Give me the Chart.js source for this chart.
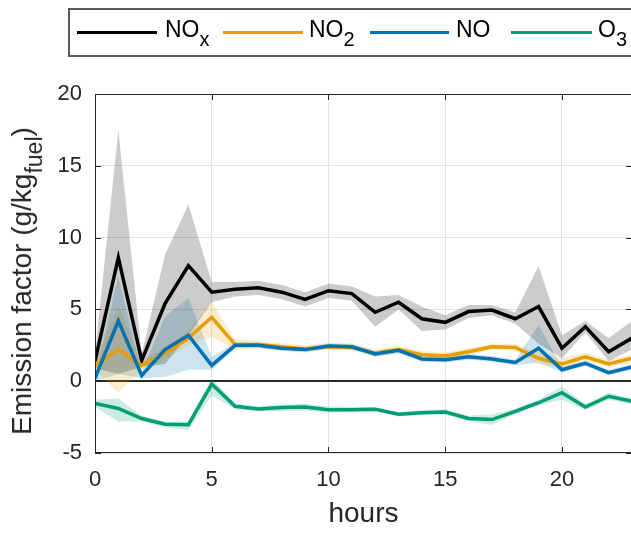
<!DOCTYPE html>
<html>
<head>
<meta charset="utf-8">
<script src="https://cdn.jsdelivr.net/npm/chart.js@4"></script>
<style>
  html, body { margin: 0; padding: 0; background: #fff; overflow: hidden; }
  #wrap { position: relative; width: 640px; height: 533px; font-family: "Liberation Sans", Arial, sans-serif; color: #262626; }
  #chart { position: absolute; left: 0; top: 0; }
  .legend { position: absolute; left: 68px; top: 8px; width: 600px; height: 49px; border: 2px solid #5a5a5a; box-sizing: border-box; }
  .key { position: absolute; top: 31px; height: 3px; }
  .lab { position: absolute; top: 18px; font-size: 23px; line-height: 23px; white-space: nowrap; color: #000; }
  .lab sub { font-size: 20px; vertical-align: -9px; line-height: 0; }
  #ytitle { position: absolute; left: 22px; top: 281px; transform: translate(-50%, -50%) rotate(-90deg); font-size: 28px; line-height: 28px; white-space: nowrap; }
  #ytitle sub { font-size: 23px; vertical-align: -11px; line-height: 0; }
</style>
</head>
<body>
<div id="wrap">
  <canvas id="chart" width="640" height="533"></canvas>
  <div class="legend"></div>
  <div class="key" style="left:77px;width:80px;background:#000"></div>
  <div class="lab" style="left:165px">NO<sub>x</sub></div>
  <div class="key" style="left:223px;width:80px;background:#E69F00"></div>
  <div class="lab" style="left:309px">NO<sub>2</sub></div>
  <div class="key" style="left:370px;width:79px;background:#0072B2"></div>
  <div class="lab" style="left:456px">NO</div>
  <div class="key" style="left:511px;width:81px;background:#009E73"></div>
  <div class="lab" style="left:598px">O<sub>3</sub></div>
  <div id="ytitle">Emission factor (g/kg<sub>fuel</sub>)</div>
</div>
<script>
const hours = [0, 1, 2, 3, 4, 5, 6, 7, 8, 9, 10, 11, 12, 13, 14, 15, 16, 17, 18, 19, 20, 21, 22, 23];

const noxMean = [1.4, 8.6, 1.45, 5.4, 8.05, 6.2, 6.4, 6.5, 6.2, 5.7, 6.3, 6.1, 4.8, 5.5, 4.35, 4.1, 4.85, 4.95, 4.35, 5.2, 2.3, 3.8, 2.05, 3.0];
const noxLow  = [0.9, 0.5, 1.0, 1.2, 3.2, 5.5, 5.9, 6.0, 5.7, 5.2, 5.8, 5.6, 3.8, 5.0, 3.5, 3.6, 4.4, 4.6, 4.0, 2.6, 1.6, 3.4, 1.4, 2.2];
const noxHigh = [1.9, 17.5, 1.9, 8.8, 12.3, 6.9, 6.9, 7.0, 6.7, 6.2, 6.8, 6.6, 5.9, 6.0, 5.2, 4.6, 5.3, 5.3, 4.8, 8.0, 3.2, 4.2, 3.0, 4.2];

const no2Mean = [1.1, 2.2, 1.1, 1.95, 3.0, 4.45, 2.55, 2.55, 2.4, 2.25, 2.4, 2.35, 1.95, 2.2, 1.85, 1.75, 2.05, 2.4, 2.35, 1.6, 1.2, 1.7, 1.2, 1.6];
const no2Low  = [0.8, -0.8, 0.8, 1.5, 2.5, 3.1, 2.2, 2.3, 2.2, 2.05, 2.2, 2.15, 1.7, 1.95, 1.6, 1.55, 1.85, 2.2, 2.1, 1.2, 0.9, 1.45, 0.95, 1.3];
const no2High = [1.4, 5.2, 1.4, 2.4, 3.5, 5.5, 2.9, 2.8, 2.65, 2.5, 2.65, 2.6, 2.2, 2.45, 2.1, 2.0, 2.3, 2.6, 2.6, 2.0, 1.6, 2.0, 1.5, 1.9];

const noMean = [0.2, 4.2, 0.4, 2.2, 3.2, 1.1, 2.5, 2.5, 2.3, 2.2, 2.45, 2.4, 1.9, 2.15, 1.55, 1.5, 1.7, 1.55, 1.3, 2.3, 0.8, 1.25, 0.6, 1.0];
const noLow  = [0.0, 0.5, 0.2, 0.3, 0.8, 0.8, 2.3, 2.3, 2.1, 2.0, 2.25, 2.2, 1.7, 1.95, 1.35, 1.3, 1.5, 1.35, 1.1, 1.3, 0.6, 1.05, 0.4, 0.8];
const noHigh = [0.4, 7.3, 0.6, 4.5, 5.8, 1.7, 2.7, 2.7, 2.5, 2.4, 2.65, 2.6, 2.1, 2.35, 1.75, 1.7, 1.9, 1.75, 1.5, 3.9, 1.0, 1.45, 0.8, 1.2];

const o3Mean = [-1.55, -1.9, -2.6, -3.0, -3.03, -0.2, -1.75, -1.93, -1.84, -1.8, -1.98, -1.98, -1.95, -2.3, -2.2, -2.15, -2.6, -2.67, -2.1, -1.5, -0.8, -1.8, -1.05, -1.4];
const o3Low  = [-1.8, -2.8, -2.8, -3.2, -3.4, -1.0, -1.95, -2.1, -2.1, -2.05, -2.2, -2.15, -2.1, -2.45, -2.35, -2.3, -2.8, -3.05, -2.3, -1.7, -1.3, -2.0, -1.3, -1.6];
const o3High = [-1.3, -1.2, -2.4, -2.8, -2.8, 0.2, -1.55, -1.75, -1.6, -1.55, -1.75, -1.8, -1.8, -2.15, -2.0, -1.95, -2.4, -2.3, -1.9, -1.3, -0.35, -1.6, -0.8, -1.2];

const xTicks = [0, 5, 10, 15, 20];
const yTicks = [-5, 0, 5, 10, 15, 20];

const FONT = '"Liberation Sans", Arial, sans-serif';
const AXIS = '#262626';
const GRID = '#e3e3e3';

function toXY(vals) {
    return hours.map((h, i) => ({ x: h, y: vals[i] }));
}

function band(low, high, color) {
    return [
        { data: toXY(low), borderWidth: 0, pointRadius: 0, fill: false, order: 10 },
        { data: toXY(high), borderWidth: 0, pointRadius: 0, fill: '-1', backgroundColor: color, order: 10 }
    ];
}

function line(vals, color, order) {
    return { data: toXY(vals), borderColor: color, borderWidth: 3.5, pointRadius: 0, fill: false, tension: 0, order: order };
}

// box round the plot with inward ticks, like the original
const axesBox = {
    id: 'axesBox',
    afterDraw(chart) {
        const { ctx, chartArea: a, scales: { x, y } } = chart;
        ctx.save();
        ctx.strokeStyle = AXIS;
        ctx.lineWidth = 1;
        ctx.strokeRect(a.left + 0.5, a.top + 0.5, a.right - a.left - 1, a.bottom - a.top - 1);
        ctx.beginPath();
        x.ticks.forEach(t => {
            const px = Math.round(x.getPixelForValue(t.value)) + 0.5;
            ctx.moveTo(px, a.bottom); ctx.lineTo(px, a.bottom - 6);
            ctx.moveTo(px, a.top); ctx.lineTo(px, a.top + 6);
        });
        y.ticks.forEach(t => {
            const py = Math.round(y.getPixelForValue(t.value)) + 0.5;
            ctx.moveTo(a.left, py); ctx.lineTo(a.left + 6, py);
            ctx.moveTo(a.right, py); ctx.lineTo(a.right - 6, py);
        });
        ctx.stroke();
        ctx.restore();
    }
};

new Chart(document.getElementById('chart').getContext('2d'), {
    type: 'line',
    data: {
        datasets: [
            ...band(noxLow, noxHigh, 'rgba(0, 0, 0, 0.2)'),
            ...band(no2Low, no2High, 'rgba(230, 159, 0, 0.2)'),
            ...band(noLow, noHigh, 'rgba(0, 114, 178, 0.2)'),
            ...band(o3Low, o3High, 'rgba(0, 158, 115, 0.2)'),
            line(noxMean, '#000000', 4),
            line(no2Mean, '#E69F00', 3),
            line(noMean, '#0072B2', 2),
            line(o3Mean, '#009E73', 1)
        ]
    },
    options: {
        responsive: false,
        animation: false,
        layout: { padding: { top: 94, right: 8, left: 0, bottom: 0 } },
        plugins: {
            legend: { display: false },
            tooltip: { enabled: false },
            filler: { drawTime: 'beforeDatasetsDraw' }
        },
        scales: {
            x: {
                type: 'linear',
                min: 0,
                max: 23,
                afterBuildTicks: s => { s.ticks = xTicks.map(v => ({ value: v })); },
                afterFit: s => { s.height = 80; },
                ticks: { padding: 14, maxRotation: 0, color: AXIS, font: { size: 22, family: FONT } },
                grid: { color: GRID, drawTicks: false },
                border: { display: false },
                title: { display: true, text: 'hours', color: AXIS, font: { size: 28, family: FONT }, padding: { top: 0, bottom: 2 } }
            },
            y: {
                min: -5,
                max: 20,
                afterBuildTicks: s => { s.ticks = yTicks.map(v => ({ value: v })); },
                afterFit: s => { s.width = 95; },
                ticks: { padding: 13, color: AXIS, font: { size: 22, family: FONT } },
                grid: {
                    color: ctx => ctx.tick && ctx.tick.value === 0 ? AXIS : GRID,
                    lineWidth: ctx => ctx.tick && ctx.tick.value === 0 ? 2 : 1,
                    drawTicks: false
                },
                border: { display: false }
            }
        }
    },
    plugins: [axesBox]
});
</script>
</body>
</html>
